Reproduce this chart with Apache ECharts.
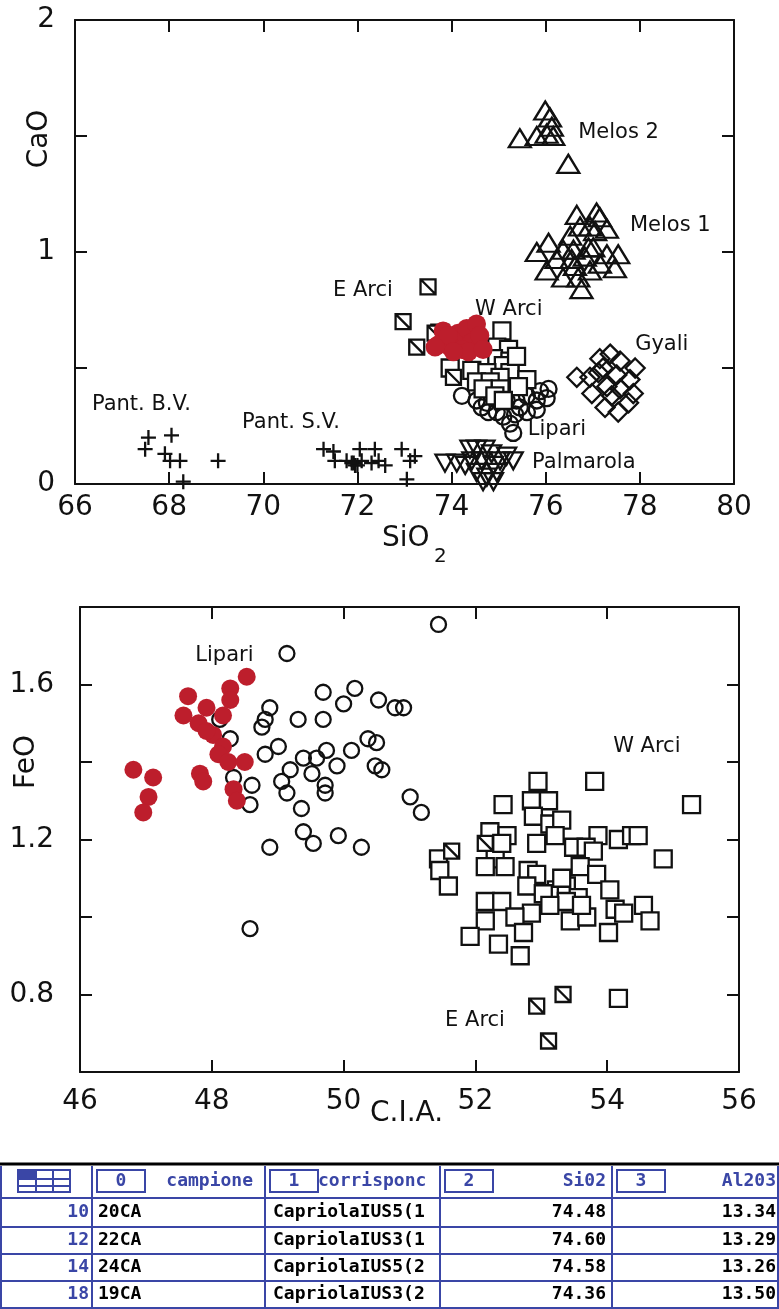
<!DOCTYPE html>
<html lang="it">
<head>
<meta charset="UTF-8">
<title>CaO vs SiO2 / FeO vs C.I.A.</title>
<script src="https://cdn.jsdelivr.net/npm/echarts/dist/echarts.min.js"></script>
<style>
  html, body { margin: 0; padding: 0; background: #fff; }
  #chart { width: 779px; height: 1309px; }
</style>
</head>
<body>
<div id="chart"></div>
<script>
// ---- top panel: CaO vs SiO2 ----
var topPantBV = [[67.56,0.20],[68.05,0.21],[67.49,0.15],[67.91,0.13],[68.02,0.10],[68.23,0.10],[69.04,0.10],[68.30,0.01]];
var topPantSV = [[71.28,0.15],[71.49,0.14],[71.52,0.10],[71.77,0.10],[71.88,0.09],[71.95,0.08],[72.05,0.15],[72.09,0.10],
  [72.30,0.09],[72.37,0.15],[72.59,0.08],[72.94,0.15],[73.12,0.10],[73.22,0.12],[73.05,0.02],[71.92,0.09],[72.00,0.08],[72.45,0.10]];
var topEArci = [[73.50,0.85],[72.97,0.70],[73.26,0.59],[74.04,0.46],[73.65,0.65]];
var topWArci = [[75.07,0.66],[74.96,0.59],[75.21,0.58],[74.89,0.54],[75.24,0.53],[75.10,0.51],[74.60,0.52],[74.43,0.49],
  [74.75,0.48],[75.24,0.48],[75.03,0.46],[75.60,0.45],[74.53,0.44],[74.82,0.44],[75.42,0.42],[75.03,0.41],[74.67,0.41],
  [74.92,0.38],[75.10,0.36],[73.97,0.50],[73.75,0.65],[75.38,0.55]];
var topLipari = [[74.22,0.38],[74.53,0.36],[74.64,0.33],[74.78,0.31],[74.96,0.31],[75.17,0.36],[75.38,0.36],[75.60,0.38],
  [75.81,0.36],[76.06,0.41],[76.02,0.37],[75.81,0.32],[75.60,0.31],[75.35,0.30],[75.10,0.29],[75.24,0.26],[75.31,0.22],
  [74.75,0.35],[75.45,0.33],[75.88,0.40]];
var topPalmarola = [[73.86,0.09],[74.11,0.09],[74.39,0.15],[74.53,0.15],[74.71,0.15],[74.43,0.10],[74.64,0.10],[74.29,0.08],
  [74.85,0.13],[75.03,0.10],[75.31,0.10],[75.17,0.12],[74.89,0.08],[74.53,0.05],[74.75,0.03],[74.96,0.05],[74.67,0.01],[74.89,0.01]];
var topMelos2 = [[75.99,1.61],[76.09,1.58],[76.13,1.54],[75.45,1.49],[75.81,1.50],[76.16,1.50],[76.02,1.51],[76.48,1.38]];
var topMelos1 = [[76.66,1.16],[77.08,1.17],[77.15,1.15],[76.73,1.11],[76.94,1.11],[77.30,1.10],[76.52,1.07],[77.05,1.09],
  [75.81,1.00],[76.06,1.04],[76.37,1.01],[76.59,1.01],[77.01,1.02],[77.30,0.99],[77.54,0.99],[76.23,0.97],[76.55,0.97],
  [76.83,0.98],[77.15,0.95],[77.47,0.93],[76.02,0.92],[76.37,0.89],[76.69,0.89],[76.94,0.92],[76.76,0.84],[76.62,0.94],[76.91,1.02]];
var topGyali = [[76.66,0.46],[77.15,0.54],[77.37,0.56],[77.58,0.53],[77.90,0.50],[77.22,0.50],[77.51,0.47],[76.94,0.46],
  [77.79,0.45],[77.30,0.42],[76.98,0.39],[77.58,0.41],[77.86,0.39],[77.40,0.38],[77.26,0.33],[77.54,0.31],[77.76,0.35],[77.12,0.48]];
var topSample = [[73.82,0.66],[73.72,0.60],[73.97,0.59],[74.14,0.65],[74.32,0.67],[74.53,0.69],[74.43,0.61],[74.60,0.59],
  [74.22,0.58],[73.93,0.64],[74.60,0.64],[73.65,0.59],[74.36,0.57],[74.04,0.57],[74.67,0.58]];
var topLabels = [[76.69,1.517,'Melos 2'],[77.79,1.116,'Melos 1'],[71.48,0.832,'E Arci'],[74.50,0.75,'W Arci'],
  [77.90,0.599,'Gyali'],[75.62,0.233,'Lipari'],[75.71,0.091,'Palmarola'],[66.36,0.341,'Pant. B.V.'],[69.55,0.263,'Pant. S.V.']];

// ---- bottom panel: FeO vs C.I.A. ----
var botSample = [[48.53,1.62],[48.28,1.59],[48.28,1.56],[47.64,1.57],[47.92,1.54],[48.17,1.52],[47.57,1.52],[47.80,1.50],
  [48.02,1.47],[48.17,1.44],[48.10,1.42],[48.25,1.40],[48.50,1.40],[46.81,1.38],[47.11,1.36],[47.82,1.37],[47.87,1.35],
  [47.04,1.31],[46.96,1.27],[48.33,1.33],[48.38,1.30],[47.92,1.48]];
var botLipari = [[49.14,1.68],[49.69,1.58],[50.17,1.59],[50.00,1.55],[50.53,1.56],[50.78,1.54],[50.91,1.54],[48.88,1.54],
  [48.81,1.51],[48.76,1.49],[49.31,1.51],[49.69,1.51],[48.12,1.51],[48.28,1.46],[48.81,1.42],[49.01,1.44],[49.39,1.41],
  [49.59,1.41],[49.74,1.43],[50.12,1.43],[50.37,1.46],[50.50,1.45],[49.90,1.39],[50.48,1.39],[50.58,1.38],[49.19,1.38],
  [49.52,1.37],[49.06,1.35],[49.14,1.32],[49.72,1.34],[49.72,1.32],[48.33,1.36],[48.61,1.34],[48.58,1.29],[49.36,1.28],
  [51.01,1.31],[51.18,1.27],[49.39,1.22],[49.54,1.19],[49.92,1.21],[50.27,1.18],[48.88,1.18],[48.58,0.97],[51.44,1.755]];
var botWArci = [[52.95,1.35],[53.81,1.35],[55.28,1.29],[52.42,1.29],[52.85,1.30],[53.11,1.30],[52.88,1.26],[53.13,1.24],
  [53.31,1.25],[52.22,1.22],[52.48,1.21],[52.93,1.19],[53.21,1.21],[53.49,1.18],[53.86,1.21],[54.17,1.20],[54.37,1.21],
  [54.47,1.21],[51.44,1.15],[52.30,1.15],[53.68,1.18],[53.79,1.17],[54.85,1.15],[51.46,1.12],[52.15,1.13],[52.45,1.13],
  [52.80,1.12],[52.93,1.11],[53.59,1.13],[53.84,1.11],[51.59,1.08],[52.78,1.08],[53.23,1.07],[53.38,1.08],[53.56,1.05],
  [54.04,1.07],[53.03,1.06],[53.38,1.04],[52.15,1.04],[52.40,1.04],[52.85,1.01],[53.13,1.03],[54.12,1.02],[54.25,1.01],
  [54.55,1.03],[52.15,0.99],[52.60,1.00],[53.44,0.99],[53.69,1.00],[54.65,0.99],[52.73,0.96],[51.92,0.95],[54.02,0.96],
  [52.35,0.93],[52.68,0.90],[53.31,1.10],[53.61,1.03],[54.17,0.79],[52.40,1.19]];
var botEArci = [[53.33,0.80],[52.93,0.77],[53.11,0.68],[51.64,1.17],[52.15,1.19]];
var botLabels = [[47.75,1.676,'Lipari'],[54.09,1.439,'W Arci'],[51.54,0.734,'E Arci']];

// ---- data table under the plots ----
var tableHead = ['campione', 'corrisponc', 'Si02', 'Al203'];
var tableIds = ['10', '12', '14', '18'];
var tableCampione = ['20CA', '22CA', '24CA', '19CA'];
var tableCorrisp = ['CapriolaIUS5(1', 'CapriolaIUS3(1', 'CapriolaIUS5(2', 'CapriolaIUS3(2'];
var tableSiO2 = ['74.48', '74.60', '74.58', '74.36'];
var tableAl2O3 = ['13.34', '13.29', '13.26', '13.50'];

var ink = '#111';
var red = '#bd1e2c';
var blue = '#3a46a6';
var font = 'DejaVu Sans';

var myChart = echarts.init(document.getElementById('chart'), null, {renderer: 'canvas'});

function axis(gi, pos, min, max, step, labels) {
  return {
    type: 'value', gridIndex: gi, position: pos, min: min, max: max, interval: step,
    axisLine: {show: true, onZero: false, lineStyle: {color: ink, width: 2}},
    axisTick: {show: true, inside: true, length: 12, lineStyle: {color: ink, width: 2}},
    splitLine: {show: false},
    axisLabel: labels ? Object.assign({show: true, color: ink, fontSize: 28, fontFamily: font}, labels) : {show: false}
  };
}

function pts(data, g, symbol, size, fill, extra) {
  return Object.assign({
    type: 'scatter', xAxisIndex: g * 2, yAxisIndex: g * 2, data: data,
    symbol: symbol, symbolSize: size, silent: true,
    itemStyle: {color: fill, borderColor: ink, borderWidth: 2.3, opacity: 1}
  }, extra || {});
}

function dots(data, g, size) {
  return {
    type: 'scatter', xAxisIndex: g * 2, yAxisIndex: g * 2, data: data,
    symbol: 'circle', symbolSize: size, silent: true, z: 5,
    itemStyle: {color: red, borderWidth: 0, opacity: 1}
  };
}

// place-name annotations, anchored at their left edge in data units
function notes(data, g) {
  return {
    type: 'scatter', xAxisIndex: g * 2, yAxisIndex: g * 2, data: data,
    symbolSize: 0, silent: true, itemStyle: {opacity: 1},
    label: {show: true, position: 'right', distance: 0, color: '#111', fontSize: 21, fontFamily: font,
      formatter: function (p) { return p.value[2]; }}
  };
}

var plus = 'path://M0,5L10,5M5,0L5,10';
var slashBox = 'path://M0,0L10,0L10,10L0,10ZM0,0L10,10';

// table drawn with graphic elements
var colX = [1, 92, 265, 440, 612, 778];
var rowY = [1164, 1198, 1227, 1254, 1281, 1308];
var tFont = 'bold 18px "DejaVu Sans Mono"';
var gfx = [];
function tText(x, y, s, align, color) {
  gfx.push({type: 'text', x: x, y: y, silent: true,
    style: {text: s, font: tFont, fill: color, align: align, verticalAlign: 'middle'}});
}
gfx.push({type: 'line', shape: {x1: 0, y1: rowY[0], x2: 779, y2: rowY[0]}, style: {stroke: '#000', lineWidth: 3}});
for (var i = 1; i < rowY.length; i++) {
  gfx.push({type: 'line', shape: {x1: 0, y1: rowY[i], x2: 779, y2: rowY[i]}, style: {stroke: blue, lineWidth: 2}});
}
colX.forEach(function (x) {
  gfx.push({type: 'line', shape: {x1: x, y1: rowY[0] + 2, x2: x, y2: 1309}, style: {stroke: blue, lineWidth: 2}});
});
// header icon
var hy = (rowY[0] + rowY[1]) / 2;
gfx.push({type: 'rect', shape: {x: 18, y: hy - 11, width: 52, height: 22}, style: {fill: 'none', stroke: blue, lineWidth: 2}});
gfx.push({type: 'rect', shape: {x: 18, y: hy - 11, width: 18, height: 9}, style: {fill: blue}});
[36, 53].forEach(function (x) {
  gfx.push({type: 'line', shape: {x1: x, y1: hy - 11, x2: x, y2: hy + 11}, style: {stroke: blue, lineWidth: 2}});
});
gfx.push({type: 'line', shape: {x1: 18, y1: hy - 2, x2: 70, y2: hy - 2}, style: {stroke: blue, lineWidth: 2}});
gfx.push({type: 'line', shape: {x1: 18, y1: hy + 5, x2: 70, y2: hy + 5}, style: {stroke: blue, lineWidth: 2}});
// header index boxes and names
var boxX = [97, 270, 445, 617];
var headAlign = ['right', 'left', 'right', 'right'];
var headX = [253, 318, 606, 776];
for (var c = 0; c < 4; c++) {
  gfx.push({type: 'rect', shape: {x: boxX[c], y: hy - 11, width: 48, height: 22}, style: {fill: '#fff', stroke: blue, lineWidth: 2}});
  tText(boxX[c] + 24, hy, String(c), 'center', blue);
  tText(headX[c], hy, tableHead[c], headAlign[c], blue);
}
for (var r = 0; r < tableIds.length; r++) {
  var ry = (rowY[r + 1] + rowY[r + 2]) / 2;
  tText(89, ry, tableIds[r], 'right', blue);
  tText(98, ry, tableCampione[r], 'left', '#000');
  tText(273, ry, tableCorrisp[r], 'left', '#000');
  tText(606, ry, tableSiO2[r], 'right', '#000');
  tText(776, ry, tableAl2O3[r], 'right', '#000');
}
// axis names
function axName(x, y, s, size, rot, align) {
  gfx.push({type: 'text', x: x, y: y, rotation: rot || 0, silent: true,
    style: {text: s, fontSize: size, fontFamily: font, fill: ink, align: align || 'left', verticalAlign: 'middle'}});
}
axName(40, 139, 'CaO', 28, Math.PI / 2, 'center');
axName(382, 539, 'SiO', 28);
axName(434, 557, '2', 20);
axName(27, 762, 'FeO', 28, Math.PI / 2, 'center');
axName(370, 1114, 'C.I.A.', 28);

var options = {
  animation: false,
  backgroundColor: '#fff',
  grid: [
    {left: 75, top: 20, width: 659, height: 464, outerBoundsMode: 'none'},
    {left: 80, top: 607, width: 659, height: 465, outerBoundsMode: 'none'}
  ],
  xAxis: [
    axis(0, 'bottom', 66, 80, 2, {margin: 10}),
    axis(0, 'top', 66, 80, 2, null),
    axis(1, 'bottom', 46, 56, 2, {margin: 16}),
    axis(1, 'top', 46, 56, 2, null)
  ],
  yAxis: [
    axis(0, 'left', 0, 2, 0.5, {margin: 20, formatter: function (v) { return v % 1 === 0 ? String(v) : ''; }}),
    axis(0, 'right', 0, 2, 0.5, null),
    axis(1, 'left', 0.6, 1.8, 0.2, {margin: 26, formatter: function (v) {
      var k = Math.round(v * 10); return k % 4 === 0 ? (k / 10).toFixed(1) : ''; }}),
    axis(1, 'right', 0.6, 1.8, 0.2, null)
  ],
  series: [
    pts(topPantBV, 0, plus, 15, 'transparent'),
    pts(topPantSV, 0, plus, 15, 'transparent'),
    pts(topPalmarola, 0, 'triangle', [19, 17], 'transparent', {symbolRotate: 180}),
    pts(topLipari, 0, 'circle', 16, 'transparent'),
    pts(topWArci, 0, 'rect', 17, '#fff'),
    pts(topEArci, 0, slashBox, 15, '#fff'),
    pts(topMelos2, 0, 'triangle', [22, 18], 'transparent'),
    pts(topMelos1, 0, 'triangle', [22, 18], 'transparent'),
    pts(topGyali, 0, 'diamond', 19, 'transparent'),
    notes(topLabels, 0),
    dots(topSample, 0, 19),

    pts(botLipari, 1, 'circle', 15, 'transparent'),
    pts(botWArci, 1, 'rect', 17, '#fff'),
    pts(botEArci, 1, slashBox, 15, '#fff'),
    notes(botLabels, 1),
    dots(botSample, 1, 18)
  ],
  graphic: gfx
};
myChart.setOption(options);
</script>
</body>
</html>
